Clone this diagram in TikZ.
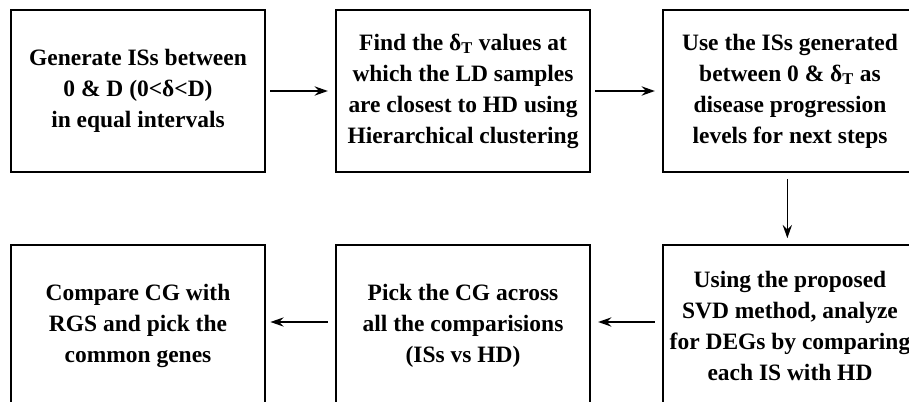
\documentclass[tikz,border=0pt]{standalone}
\usepackage{fontspec}
\setmainfont{Liberation Serif}
\usetikzlibrary{arrows.meta}
\begin{document}
\begin{tikzpicture}[x=0.75pt,y=-0.75pt,
  stepbox/.style={draw, line width=2.2pt, minimum width=190.5pt, minimum height=121.5pt,
    align=center, font=\bfseries\fontsize{17.6}{23.3}\selectfont, inner sep=0pt},
  conn/.style={line width=1.1pt, -{Stealth[length=10pt,width=7pt,inset=3.5pt]}}]
\clip (0,0) rectangle (909,402);
\fill[white] (0,0) rectangle (909,402);
\node[stepbox] (b1) at (138,91) {Generate ISs between\\0 \& D (0<δ<D)\\in equal intervals};
\node[stepbox] (b2) at (463,91) {Find the δ\textsubscript{T} values at\\which the LD samples\\are closest to HD using\\Hierarchical clustering};
\node[stepbox] (b3) at (790,91) {Use the ISs generated\\between 0 \& δ\textsubscript{T} as\\disease progression\\levels for next steps};
\node[stepbox] (b6) at (790,326) {Using the proposed\\SVD method, analyze\\for DEGs by comparing\\each IS with HD};
\node[stepbox] (b5) at (463,326) {Pick the CG across\\all the comparisions\\(ISs vs HD)};
\node[stepbox] (b4) at (138,326) {Compare CG with\\RGS and pick the\\common genes};
\draw[conn] ([xshift=3pt]b1.east) -- ([xshift=-5pt]b2.west);
\draw[conn] ([xshift=3pt]b2.east) -- ([xshift=-5pt]b3.west);
\draw[conn] ([yshift=-4pt,xshift=-2pt]b3.south) -- ([yshift=4pt,xshift=-2pt]b6.north);
\draw[conn] ([xshift=-5pt,yshift=3pt]b6.west) -- ([xshift=5pt,yshift=3pt]b5.east);
\draw[conn] ([xshift=-5pt,yshift=3pt]b5.west) -- ([xshift=3pt,yshift=3pt]b4.east);
\end{tikzpicture}
\end{document}
